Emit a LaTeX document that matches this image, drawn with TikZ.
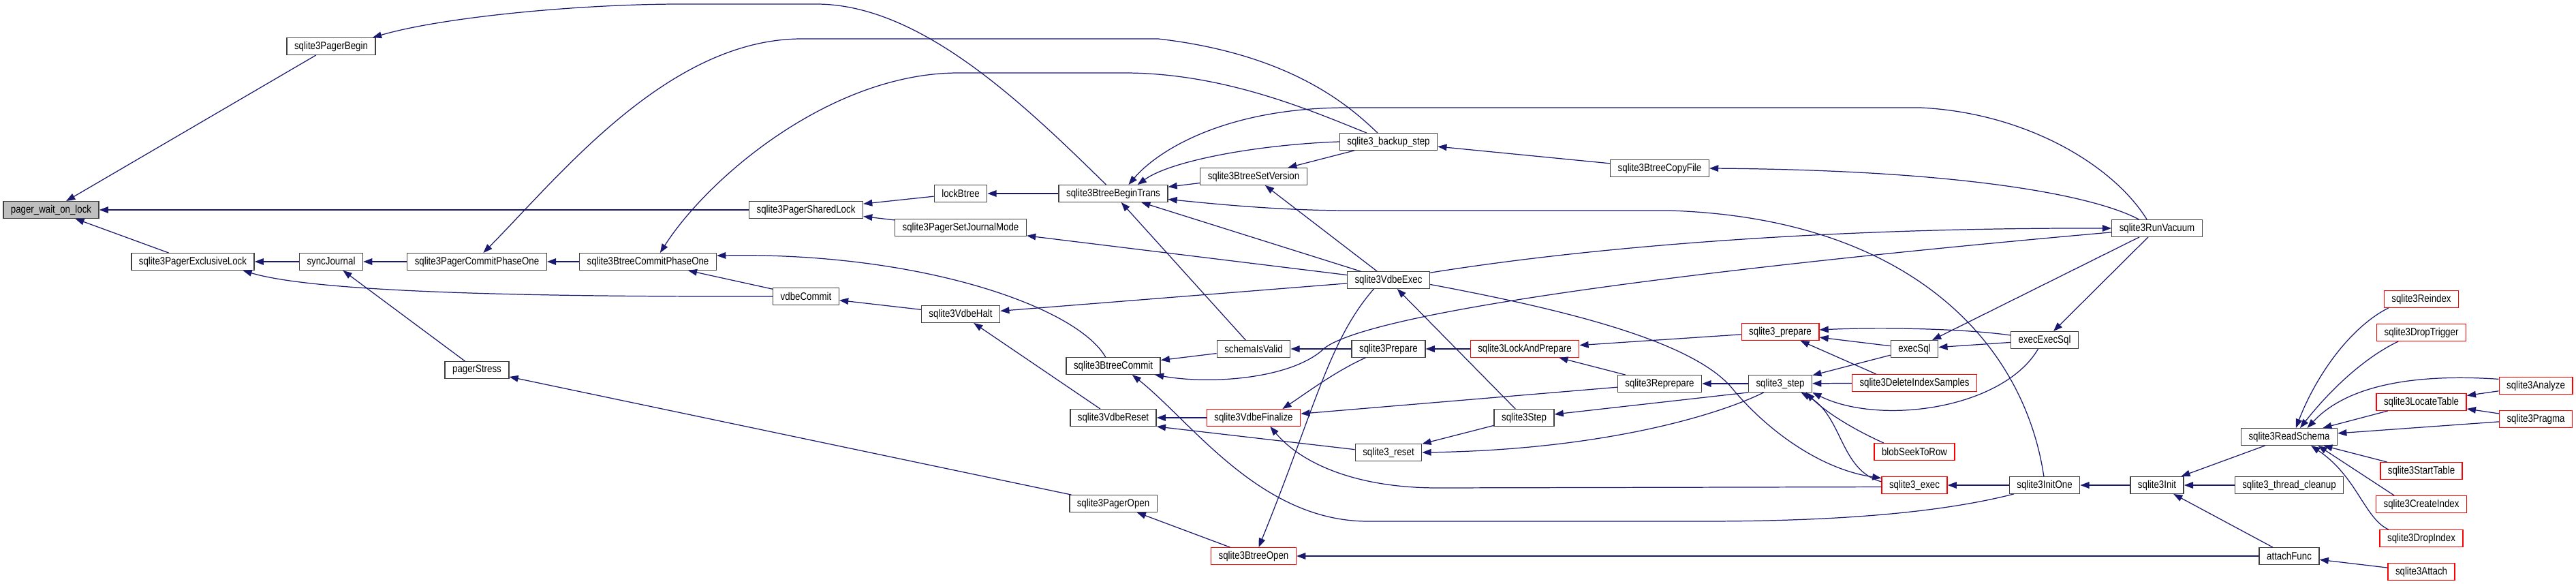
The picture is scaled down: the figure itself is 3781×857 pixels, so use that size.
\documentclass[tikz,border=0pt]{standalone}
\usepackage{fontspec}
\newfontfamily\graphfont{Liberation Sans}[FakeStretch=0.85]
\usetikzlibrary{arrows.meta, calc}
\definecolor{edgeblue}{RGB}{25,25,112}
\definecolor{boxgray}{RGB}{191,191,191}

\begin{document}
\begin{tikzpicture}[x=0.02cm, y=-0.02cm, >={Triangle[length=7.5pt,width=5.5pt]}, line width=0.7pt,
    fn/.style={draw=black!75, line width=0.8pt, rectangle, inner xsep=0.22cm, inner ysep=0pt,
      minimum height=0.49cm, font=\graphfont\fontsize{8.9}{10}\selectfont},
    trunc/.style={fn, draw=red},
    root/.style={fn, fill=boxgray},
    call/.style={->, draw=edgeblue},
    every edge/.style={call, draw}]
    \useasboundingbox (0,0) rectangle (3781,857);

    % pager layer
    \node[root] (pwol) at (75,308) {pager\_wait\_on\_lock};
    \node[fn] (pagerBegin) at (486,68) {sqlite3PagerBegin};
    \node[fn] (exclusiveLock) at (283,384) {sqlite3PagerExclusiveLock};
    \node[fn] (syncJournal) at (486,384) {syncJournal};
    \node[fn] (commitPhaseOne) at (700,384) {sqlite3PagerCommitPhaseOne};
    \node[fn] (pagerStress) at (700,543) {pagerStress};
    \node[fn] (sharedLock) at (1183,308) {sqlite3PagerSharedLock};
    \node[fn] (lockBtree) at (1410,284) {lockBtree};
    \node[fn] (journalMode) at (1410,334) {sqlite3PagerSetJournalMode};
    \node[fn] (btreeCommitPhaseOne) at (951,384) {sqlite3BtreeCommitPhaseOne};
    \node[fn] (vdbeCommit) at (1183,435) {vdbeCommit};
    \node[fn] (vdbeHalt) at (1410,461) {sqlite3VdbeHalt};

    % btree and vdbe layer
    \node[fn] (btreeBeginTrans) at (1634,284) {sqlite3BtreeBeginTrans};
    \node[fn] (btreeCommit) at (1634,537) {sqlite3BtreeCommit};
    \node[fn] (vdbeReset) at (1634,613) {sqlite3VdbeReset};
    \node[fn] (pagerOpen) at (1634,739) {sqlite3PagerOpen};
    \node[fn] (btreeSetVersion) at (1840,259) {sqlite3BtreeSetVersion};
    \node[fn] (schemaIsValid) at (1840,512) {schemaIsValid};
    \node[trunc] (vdbeFinalize) at (1840,613) {sqlite3VdbeFinalize};
    \node[trunc] (btreeOpen) at (1840,816) {sqlite3BtreeOpen};
    \node[fn] (backupStep) at (2038,208) {sqlite3\_backup\_step};
    \node[fn] (vdbeExec) at (2038,411) {sqlite3VdbeExec};
    \node[fn] (prepare) at (2038,512) {sqlite3Prepare};
    \node[fn] (reset) at (2038,664) {sqlite3\_reset};
    \node[trunc] (lockAndPrepare) at (2238,512) {sqlite3LockAndPrepare};
    \node[fn] (step) at (2237,613) {sqlite3Step};
    \node[fn] (btreeCopyFile) at (2436,247) {sqlite3BtreeCopyFile};
    \node[fn] (reprepare) at (2436,563) {sqlite3Reprepare};

    % api layer
    \node[trunc] (apiPrepare) at (2613,487) {sqlite3\_prepare};
    \node[fn] (apiStep) at (2613,563) {sqlite3\_step};
    \node[fn] (execSql) at (2810,512) {execSql};
    \node[trunc] (deleteIndexSamples) at (2810,562) {sqlite3DeleteIndexSamples};
    \node[trunc] (blobSeekToRow) at (2810,663) {blobSeekToRow};
    \node[trunc] (apiExec) at (2810,712) {sqlite3\_exec};
    \node[fn] (execExecSql) at (3001,499) {execExecSql};
    \node[fn] (initOne) at (3001,712) {sqlite3InitOne};
    \node[fn] (runVacuum) at (3166,335) {sqlite3RunVacuum};
    \node[fn] (init) at (3166,712) {sqlite3Init};
    \node[fn] (readSchema) at (3360,641) {sqlite3ReadSchema};
    \node[fn] (threadCleanup) at (3360,712) {sqlite3\_thread\_cleanup};
    \node[fn] (attachFunc) at (3360,816) {attachFunc};
    \node[trunc] (reindex) at (3554,439) {sqlite3Reindex};
    \node[trunc] (dropTrigger) at (3554,488) {sqlite3DropTrigger};
    \node[trunc] (locateTable) at (3554,590) {sqlite3LocateTable};
    \node[trunc] (startTable) at (3554,691) {sqlite3StartTable};
    \node[trunc] (createIndex) at (3554,740) {sqlite3CreateIndex};
    \node[trunc] (dropIndex) at (3554,790) {sqlite3DropIndex};
    \node[trunc] (attach) at (3554,839) {sqlite3Attach};
    \node[trunc] (analyze) at (3722,566) {sqlite3Analyze};
    \node[trunc] (pragma) at (3722,615) {sqlite3Pragma};

    % straight calls
    \path
    (pagerBegin) edge (pwol)
    (sharedLock) edge (pwol)
    (exclusiveLock) edge (pwol)
    (syncJournal) edge (exclusiveLock)
    (commitPhaseOne) edge (syncJournal)
    (pagerStress) edge (syncJournal)
    (pagerOpen) edge (pagerStress)
    (btreeCommitPhaseOne) edge (commitPhaseOne)
    (vdbeCommit) edge (btreeCommitPhaseOne)
    (vdbeHalt) edge (vdbeCommit)
    (lockBtree) edge (sharedLock)
    (journalMode) edge (sharedLock)
    (btreeBeginTrans) edge (lockBtree)
    (vdbeExec) edge (journalMode)
    (vdbeExec) edge (btreeSetVersion)
    (backupStep) edge (btreeSetVersion)
    (btreeSetVersion) edge (btreeBeginTrans)
    (vdbeExec) edge (btreeBeginTrans)
    (schemaIsValid) edge (btreeBeginTrans)
    (vdbeExec) edge (vdbeHalt)
    (vdbeReset) edge (vdbeHalt)
    (step) edge (vdbeExec)
    (btreeCopyFile) edge (backupStep)
    (runVacuum) edge (execSql)
    (runVacuum) edge (execExecSql)
    (schemaIsValid) edge (btreeCommit)
    (prepare) edge (schemaIsValid)
    (lockAndPrepare) edge (prepare)
    (apiPrepare) edge (lockAndPrepare)
    (reprepare) edge (lockAndPrepare)
    (reprepare) edge (vdbeFinalize)
    (vdbeFinalize) edge (vdbeReset)
    (reset.175) edge (vdbeReset.south east)
    (step) edge (reset)
    (apiStep.south west) edge (step)
    (apiStep) edge (reprepare)
    (execSql) edge (apiPrepare.-8)
    (deleteIndexSamples.167) edge (apiPrepare)
    (execExecSql) edge (execSql)
    (execSql) edge (apiStep)
    (deleteIndexSamples) edge (apiStep)
    (initOne) edge (apiExec)
    (init) edge (initOne)
    (readSchema) edge (init)
    (threadCleanup) edge (init)
    (attachFunc) edge (init)
    (attach) edge (attachFunc)
    (attachFunc) edge (btreeOpen)
    (btreeOpen) edge (pagerOpen)
    (locateTable) edge (readSchema)
    (pragma) edge (readSchema)
    (startTable) edge (readSchema)
    (createIndex.162) edge (readSchema.-17)
    (analyze) edge (locateTable)
    (pragma) edge (locateTable);

    % curved calls
    \draw[call] (btreeBeginTrans.129) .. controls (1500,150) and (1350,6) .. (1198,6) -- (1000,6)
        .. controls (850,6) and (650,25) .. (pagerBegin.12);
    \draw[call] (backupStep.141) .. controls (1985,160) and (1900,80) .. (1700,57) -- (1177,57)
        .. controls (980,57) and (820,260) .. (commitPhaseOne.54);
    \draw[call] (backupStep.158) .. controls (1930,165) and (1800,107) .. (1650,107) -- (1407,107)
        .. controls (1220,107) and (1040,260) .. (btreeCommitPhaseOne.36);
    \draw[call] (vdbeCommit.west) .. controls (700,436) and (450,425) .. (exclusiveLock.-10);
    \draw[call] (btreeCommit.131) .. controls (1580,450) and (1350,370) .. (btreeCommitPhaseOne.5);
    \draw[call] (runVacuum.139) .. controls (3100,240) and (2970,165) .. (2818,158) -- (1978,158)
        .. controls (1800,158) and (1700,220) .. (btreeBeginTrans.30);
    \draw[call] (backupStep.west) .. controls (1850,212) and (1720,235) .. (btreeBeginTrans.20);
    \draw[call] (initOne.95) .. controls (2970,500) and (2800,320) .. (2450,309) -- (1983,309)
        .. controls (1880,309) and (1790,300) .. (btreeBeginTrans.-6);
    \draw[call] (initOne.196) .. controls (2850,752) and (2700,765) .. (2500,765) -- (2008,765)
        .. controls (1850,765) and (1750,620) .. (btreeCommit.-25);
    \draw[call] (runVacuum.185) .. controls (2600,385) and (2030,450) .. (1945,510)
        .. controls (1900,555) and (1780,565) .. (btreeCommit.-12);
    \draw[call] (vdbeExec.211) .. controls (1950,500) and (1930,600) .. (btreeOpen.60);
    \draw[call] (vdbeExec.10) .. controls (2350,360) and (2700,334) .. (runVacuum.west);
    \draw[call] (runVacuum.154) .. controls (3080,290) and (2900,250) .. (btreeCopyFile.east);
    \draw[call] (prepare.201) .. controls (1960,545) and (1920,575) .. (vdbeFinalize.17);
    \draw[call] (apiStep.208) .. controls (2520,610) and (2350,660) .. (reset.east);
    \draw[call] (execExecSql.172) .. controls (2880,482) and (2760,480) .. (apiPrepare.3);
    \draw[call] (execExecSql.234) .. controls (2940,600) and (2760,625) .. (apiStep.south east);
    \draw[call] (blobSeekToRow.164) .. controls (2720,630) and (2680,605) .. (apiStep.-19);
    \draw[call] (apiExec.174) .. controls (2700,690) and (2705,610) .. (apiStep.-23);
    \draw[call] (vdbeExec.-6) .. controls (2300,455) and (2480,500) .. (2540,567)
        .. controls (2600,640) and (2680,690) .. (apiExec.168);
    \draw[call] (apiExec.183) -- (2110,716) .. controls (1990,716) and (1910,680) .. (vdbeFinalize.-28);

    % schema readers
    \draw[call] (reindex.195) .. controls (3450,480) and (3400,550) .. (readSchema.53);
    \draw[call] (dropTrigger.201) .. controls (3480,520) and (3430,560) .. (readSchema.39);
    \draw[call] (analyze.170) .. controls (3560,549) and (3450,560) .. (readSchema.26);
    \draw[call] (dropIndex.165) .. controls (3470,760) and (3460,700) .. (readSchema.-22);
\end{tikzpicture}
\end{document}
